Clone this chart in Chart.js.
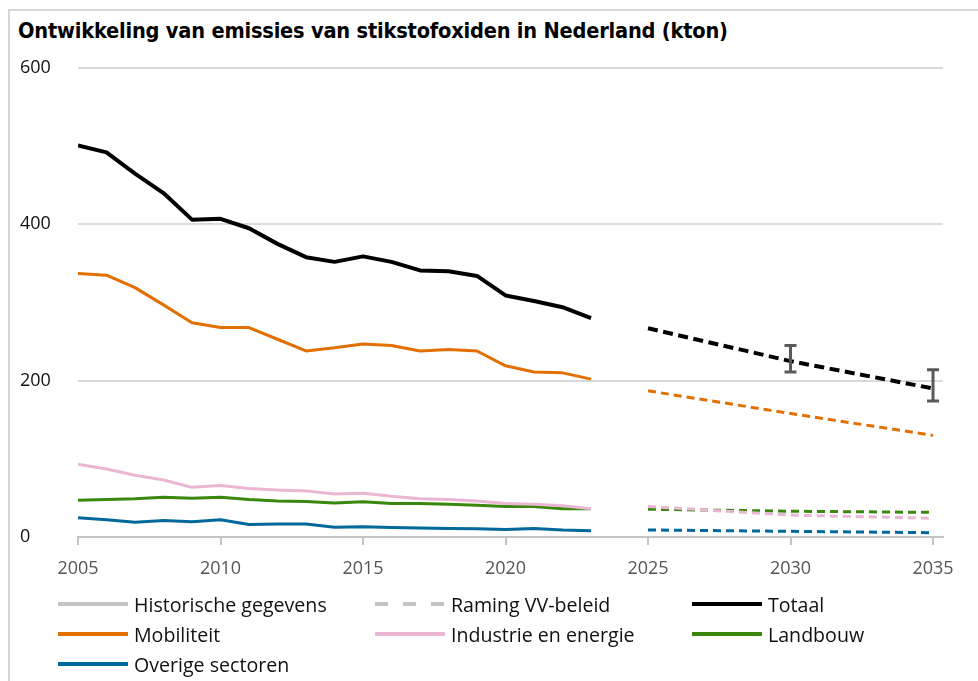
<!DOCTYPE html>
<html>
<head>
<meta charset="utf-8">
<script src="https://cdn.jsdelivr.net/npm/chart.js@4.4.1/dist/chart.umd.min.js"></script>
<style>
  html, body { margin: 0; padding: 0; background: #fff; }
  #wrap { position: relative; width: 978px; height: 681px; overflow: hidden; }
  #frame { position: absolute; left: 8px; top: 9px; right: -10px; bottom: -10px; border: 2px solid #d6d6d6; }
  #title { position: absolute; left: 18px; top: 18px; font-family: "DejaVu Sans Condensed", "DejaVu Sans", sans-serif; font-weight: bold; font-size: 21.6px; color: #000; white-space: nowrap; letter-spacing: -0.2px; }
  canvas { position: absolute; left: 0; top: 0; }
  #legend { position: absolute; left: 0; top: 589px; width: 978px; font-family: "Open Sans", sans-serif; font-size: 19.6px; color: #111; }
  .item { position: absolute; height: 30px; display: flex; align-items: center; white-space: nowrap; }
  .swatch { width: 70px; height: 4px; margin-right: 6px; }
</style>
</head>
<body>
<div id="wrap">
  <div id="frame"></div>
  <div id="title">Ontwikkeling van emissies van stikstofoxiden in Nederland (kton)</div>
  <canvas id="c" width="978" height="681"></canvas>
  <div id="legend"></div>
</div>
<script>
// ---- data (kton NOx) ----
const histYears = [2005,2006,2007,2008,2009,2010,2011,2012,2013,2014,2015,2016,2017,2018,2019,2020,2021,2022,2023];
const totaalHist      = [501,492,465,440,406,407,395,375,358,352,359,352,341,340,334,309,302,294,280];
const mobiliteitHist  = [337,335,319,297,274,268,268,253,238,242,247,245,238,240,238,219,211,210,202];
const industrieHist   = [93,87,79,73,63.5,66,62,60,59,55,56,52,49,48,46,43,42,40,36];
const landbouwHist    = [47,48,49,51,49.5,51,48,46,45.5,43.5,45,43,43,42,40.5,39,39,36,36];
const overigeHist     = [24.5,22,19,21,19.5,22,16,16.5,16.5,12.5,13,12,11.5,11,10.5,9.5,11,9,8];

const projYears = [2025,2030,2035];
const totaalProj      = [267,225,190];
const mobiliteitProj  = [187,158,130];
const industrieProj   = [39,28,24];
const landbouwProj    = [35.5,33,31.5];
const overigeProj     = [9,7.3,5.5];

const errorYears = [2030,2035];
const errorLow   = [211,174];
const errorHigh  = [245,214];

const xTicks = [2005,2010,2015,2020,2025,2030,2035];
const yTicks = [0,200,400,600];

// ---- styling ----
const C = {
  totaal: '#000000',
  mobiliteit: '#e17000',
  industrie: '#eab6d4',
  landbouw: '#39870c',
  overige: '#01689b',
  grey: '#c4c4c4'
};

function pts(xs, ys) { return xs.map((x, i) => ({x: x, y: ys[i]})); }

const series = [
  {key:'industrie', hist: industrieHist, proj: industrieProj, w: 3, dash: [8,5]},
  {key:'landbouw', hist: landbouwHist, proj: landbouwProj, w: 3, dash: [8,5]},
  {key:'overige', hist: overigeHist, proj: overigeProj, w: 3, dash: [8,5]},
  {key:'mobiliteit', hist: mobiliteitHist, proj: mobiliteitProj, w: 3, dash: [8,5]},
  {key:'totaal', hist: totaalHist, proj: totaalProj, w: 4, dash: [10,5.5]}
];

const datasets = [];
series.forEach(s => {
  datasets.push({ label: s.key, data: pts(histYears, s.hist), borderColor: C[s.key], borderWidth: s.w, pointRadius: 0, tension: 0, fill: false, borderJoinStyle: 'round' });
  datasets.push({ label: s.key + ' raming', data: pts(projYears, s.proj), borderColor: C[s.key], borderWidth: s.w, borderDash: s.dash, pointRadius: 0, tension: 0, fill: false });
});

const errorBars = {
  id: 'errorBars',
  afterDatasetsDraw(chart) {
    const {ctx, scales: {x, y}} = chart;
    ctx.save();
    ctx.strokeStyle = '#5a5a5a';
    ctx.lineWidth = 3;
    ctx.lineCap = 'butt';
    errorYears.forEach((yr, i) => {
      const px = x.getPixelForValue(yr);
      const y1 = y.getPixelForValue(errorLow[i]);
      const y2 = y.getPixelForValue(errorHigh[i]);
      ctx.beginPath();
      ctx.moveTo(px, y1); ctx.lineTo(px, y2);
      ctx.moveTo(px - 6, y1); ctx.lineTo(px + 6, y1);
      ctx.moveTo(px - 6, y2); ctx.lineTo(px + 6, y2);
      ctx.stroke();
    });
    ctx.restore();
  }
};

new Chart(document.getElementById('c'), {
  type: 'line',
  data: { datasets: datasets },
  options: {
    responsive: false,
    animation: false,
    devicePixelRatio: 1,
    layout: { padding: { left: 20, top: 68, right: 35, bottom: 0 } },
    plugins: { legend: { display: false }, tooltip: { enabled: false }, title: { display: false } },
    scales: {
      x: {
        type: 'linear',
        min: 2005, max: 2035.35,
        afterBuildTicks: (sc) => { sc.ticks = xTicks.map(v => ({value: v})); },
        afterFit: (sc) => { sc.height = 144; },
        grid: { drawOnChartArea: false, drawTicks: true, tickLength: 8, color: '#c4c4c4', lineWidth: 2 },
        border: { display: true, color: '#c4c4c4', width: 2 },
        ticks: { color: '#555', font: { family: '"Open Sans", sans-serif', size: 18 }, padding: 13, maxRotation: 0, callback: v => String(v) }
      },
      y: {
        min: 0, max: 600,
        afterBuildTicks: (sc) => { sc.ticks = yTicks.map(v => ({value: v})); },
        afterFit: (sc) => { sc.width = 58; },
        grid: { color: '#dadada', lineWidth: 2, drawTicks: false },
        border: { display: false },
        ticks: { color: '#111', crossAlign: 'far', padding: 0, font: { family: '"Open Sans", sans-serif', size: 18 } }
      }
    }
  },
  plugins: [errorBars]
});

// ---- HTML legend ----
const legendItems = [
  {label: 'Historische gegevens', color: C.grey, dashed: false},
  {label: 'Raming VV-beleid', color: C.grey, dashed: true},
  {label: 'Totaal', color: C.totaal},
  {label: 'Mobiliteit', color: C.mobiliteit},
  {label: 'Industrie en energie', color: C.industrie},
  {label: 'Landbouw', color: C.landbouw},
  {label: 'Overige sectoren', color: C.overige}
];
const colX = [58, 375, 692];
const lg = document.getElementById('legend');
legendItems.forEach((it, i) => {
  const d = document.createElement('div');
  d.className = 'item';
  d.style.left = colX[i % 3] + 'px';
  d.style.top = (Math.floor(i / 3) * 30) + 'px';
  const sw = document.createElement('div');
  sw.className = 'swatch';
  sw.style.background = it.dashed
    ? `repeating-linear-gradient(90deg, ${it.color} 0 13px, transparent 13px 28px)`
    : it.color;
  const t = document.createElement('span');
  t.textContent = it.label;
  d.appendChild(sw); d.appendChild(t);
  lg.appendChild(d);
});
</script>
</body>
</html>
